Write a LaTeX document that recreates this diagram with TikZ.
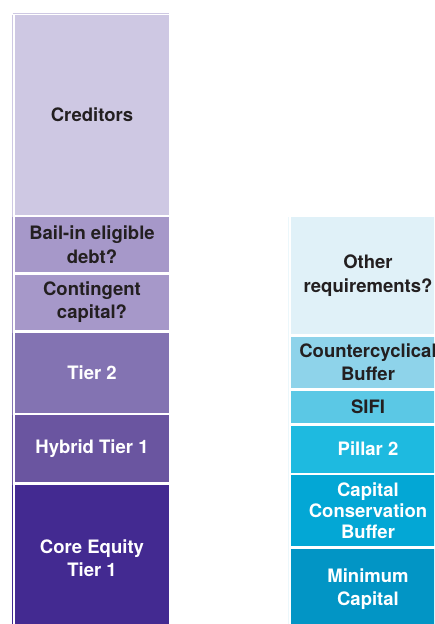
\documentclass[tikz,border=0pt]{standalone}
\usepackage{fontspec}
\setmainfont{TeX Gyre Heros}
\usepackage{tikz}
\usetikzlibrary{positioning}

\definecolor{creditorsc}{HTML}{CEC8E3}
\definecolor{bailinc}{HTML}{A698C9}
\definecolor{tiertwoc}{HTML}{8373B2}
\definecolor{hybridc}{HTML}{6A55A0}
\definecolor{corec}{HTML}{432A91}
\definecolor{otherc}{HTML}{E0F1F8}
\definecolor{counterc}{HTML}{8ED3EA}
\definecolor{sific}{HTML}{5BC8E5}
\definecolor{pillarc}{HTML}{1EBAE0}
\definecolor{ccbc}{HTML}{03A7D5}
\definecolor{minc}{HTML}{0295C5}
\definecolor{darktext}{HTML}{231F20}

\tikzset{
layer/.style={minimum width=154pt, inner sep=0pt, outer sep=0pt, align=center,
  font=\fontsize{18.5}{23.5}\selectfont\bfseries}, % one block of the stack
darklayer/.style={layer, text=darktext}, % light fill, dark label
lightlayer/.style={layer, text=white}, % dark fill, white label
node distance=2.5pt, % white gap between blocks
}

\begin{document}
\begin{tikzpicture}[x=1pt, y=-1pt]
    \useasboundingbox (0,0) rectangle (434,624);
    \clip (0,0) rectangle (434,624);

    % bank balance sheet
    \node[darklayer, fill=creditorsc, minimum height=199.5pt, anchor=north west] (creditors) at (15,15) {Creditors};
    \node[darklayer, fill=bailinc, minimum height=55pt, below=of creditors] (bail_in) {Bail-in eligible\\debt?};
    \node[darklayer, fill=bailinc, minimum height=55.5pt, below=of bail_in] (contingent) {Contingent\\capital?};
    \node[lightlayer, fill=tiertwoc, minimum height=80pt, below=of contingent] (tier_two) {Tier 2};
    \node[lightlayer, fill=hybridc, minimum height=67pt, below=of tier_two] (hybrid) {Hybrid Tier 1};
    \node[lightlayer, fill=corec, minimum height=147pt, below=of hybrid] (core) {Core Equity\\Tier 1};

    % thin rule along the left edge
    \draw[creditorsc, line width=0.8pt] (12.7,13.3) -- (169,13.3);
    \foreach \a/\b/\c in {creditors/bail_in/creditorsc, bail_in/contingent/bailinc,
        contingent/tier_two/bailinc, tier_two/hybrid/tiertwoc, hybrid/core/hybridc}
        \draw[\c, line width=1pt] (12.7,0 |- \a.north) -- (12.7,0 |- \b.north);
    \draw[corec, line width=1pt] (12.7,0 |- core.north) -- (12.7,624);

    % capital requirements
    \node[darklayer, fill=otherc, minimum height=117pt, anchor=north west] (other) at (291,217) {Other\\requirements?};
    \node[darklayer, fill=counterc, minimum height=51.5pt, below=of other] (counter) {Countercyclical\\Buffer};
    \node[darklayer, fill=sific, minimum height=32.5pt, below=of counter] (sifi) {SIFI};
    \node[lightlayer, fill=pillarc, minimum height=47pt, below=of sifi] (pillar_two) {Pillar 2};
    \node[lightlayer, fill=ccbc, minimum height=71pt, below=of pillar_two,
        font=\fontsize{18.5}{21}\selectfont\bfseries] (ccb) {Capital\\Conservation\\Buffer};
    \node[lightlayer, fill=minc, minimum height=81.5pt, below=of ccb] (minimum) {Minimum\\Capital};

    \draw[otherc!60, line width=0.8pt] (288.3,0 |- other.north) -- (288.3,624);
\end{tikzpicture}
\end{document}
